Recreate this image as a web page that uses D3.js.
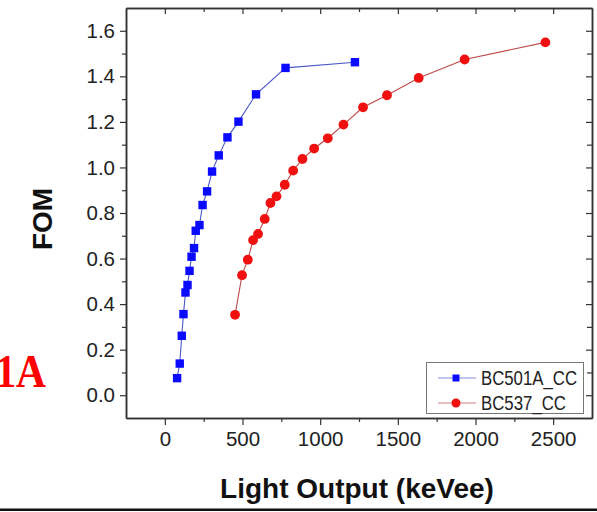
<!DOCTYPE html>
<html>
<head>
<meta charset="utf-8">
<script src="https://cdn.jsdelivr.net/npm/d3@7"></script>
<style>
  html, body { margin: 0; padding: 0; background: #fff; }
  svg { display: block; }
</style>
</head>
<body>
<svg id="chart" width="597" height="512"></svg>
<script>
// FOM versus light output for two liquid scintillators
const seriesNames = ["BC501A_CC", "BC537_CC"];

const bc501aLight = [79, 96, 109, 120, 133, 146, 159, 172, 188, 199, 223, 243, 272, 304, 347, 403, 474, 587, 777, 1224];
const bc501aFom   = [0.075, 0.139, 0.261, 0.356, 0.451, 0.484, 0.546, 0.608, 0.646, 0.722, 0.747, 0.835, 0.895, 0.982, 1.053, 1.132, 1.201, 1.321, 1.437, 1.462];

const bc537Light = [452, 497, 534, 568, 600, 643, 680, 719, 772, 826, 886, 961, 1049, 1150, 1276, 1430, 1634, 1930, 2450];
const bc537Fom   = [0.353, 0.527, 0.595, 0.681, 0.708, 0.774, 0.844, 0.873, 0.924, 0.986, 1.037, 1.083, 1.128, 1.188, 1.264, 1.317, 1.393, 1.474, 1.549];

const xTicks = [0, 500, 1000, 1500, 2000, 2500];
const xMinorTicks = [250, 750, 1250, 1750, 2250];
const yTicks = [0.0, 0.2, 0.4, 0.6, 0.8, 1.0, 1.2, 1.4, 1.6];
const yMinorTicks = [0.1, 0.3, 0.5, 0.7, 0.9, 1.1, 1.3, 1.5];

const svg = d3.select("#chart");
const plot = { left: 126, right: 592, top: 8, bottom: 418 };

const x = d3.scaleLinear().domain([-250, 2750]).range([plot.left, plot.right]);
const y = d3.scaleLinear().domain([-0.1, 1.7]).range([plot.bottom, plot.top]);

const axisColor = "#333";
const labelFont = "'Liberation Sans', Arial, Helvetica, sans-serif";

// Partial red slide heading at the left edge
svg.append("text")
  .attr("transform", "translate(46,387) scale(0.9,1)")
  .attr("text-anchor", "end")
  .attr("font-family", "'Liberation Serif', 'Times New Roman', serif")
  .attr("font-weight", "bold")
  .attr("font-size", 46)
  .attr("fill", "#ff0000")
  .text("1A");

// Axes: bottom and left with outward ticks, top and right mirrored inward
function styleAxis(g) {
  g.selectAll("path").attr("stroke", axisColor).attr("stroke-width", 1.5);
  g.selectAll("line").attr("stroke", axisColor).attr("stroke-width", 1.2);
  g.selectAll("text")
    .attr("font-family", labelFont)
    .attr("font-size", 20.5)
    .attr("fill", "#222");
}

const gx = svg.append("g").attr("transform", `translate(0,${plot.bottom})`)
  .call(d3.axisBottom(x).tickValues(xTicks).tickSize(7).tickPadding(6).tickSizeOuter(0).tickFormat(d3.format("d")));
styleAxis(gx);
const gxMinor = svg.append("g").attr("transform", `translate(0,${plot.bottom})`)
  .call(d3.axisBottom(x).tickValues(xMinorTicks).tickSize(4).tickSizeOuter(0).tickFormat(""));
styleAxis(gxMinor);

const gy = svg.append("g").attr("transform", `translate(${plot.left},0)`)
  .call(d3.axisLeft(y).tickValues(yTicks).tickSize(6).tickPadding(5).tickSizeOuter(0).tickFormat(d3.format(".1f")));
styleAxis(gy);
const gyMinor = svg.append("g").attr("transform", `translate(${plot.left},0)`)
  .call(d3.axisLeft(y).tickValues(yMinorTicks).tickSize(4).tickSizeOuter(0).tickFormat(""));
styleAxis(gyMinor);

const gTop = svg.append("g").attr("transform", `translate(0,${plot.top})`)
  .call(d3.axisBottom(x).tickValues(xTicks).tickSize(6).tickSizeOuter(0).tickFormat(""));
styleAxis(gTop);
const gTopMinor = svg.append("g").attr("transform", `translate(0,${plot.top})`)
  .call(d3.axisBottom(x).tickValues(xMinorTicks).tickSize(4).tickSizeOuter(0).tickFormat(""));
styleAxis(gTopMinor);

const gRight = svg.append("g").attr("transform", `translate(${plot.right},0)`)
  .call(d3.axisLeft(y).tickValues(yTicks).tickSize(6).tickSizeOuter(0).tickFormat(""));
styleAxis(gRight);
const gRightMinor = svg.append("g").attr("transform", `translate(${plot.right},0)`)
  .call(d3.axisLeft(y).tickValues(yMinorTicks).tickSize(5).tickSizeOuter(0).tickFormat(""));
styleAxis(gRightMinor);

// Axis titles
svg.append("text")
  .attr("x", 357).attr("y", 498)
  .attr("text-anchor", "middle")
  .attr("font-family", labelFont)
  .attr("font-weight", "bold")
  .attr("font-size", 28)
  .attr("fill", "#111")
  .text("Light Output (keVee)");

svg.append("text")
  .attr("transform", "translate(52,219) rotate(-90)")
  .attr("text-anchor", "middle")
  .attr("font-family", labelFont)
  .attr("font-weight", "bold")
  .attr("font-size", 28)
  .attr("fill", "#111")
  .text("FOM");

// Series
const series = [
  { name: seriesNames[0], xs: bc501aLight, ys: bc501aFom, color: "#0a0aff", line: "#4a58c8", shape: "square" },
  { name: seriesNames[1], xs: bc537Light, ys: bc537Fom, color: "#f01010", line: "#c04848", shape: "circle" }
];

const line = d3.line().x(d => x(d[0])).y(d => y(d[1]));

series.forEach(s => {
  const pts = s.xs.map((v, i) => [v, s.ys[i]]);
  svg.append("path")
    .datum(pts)
    .attr("d", line)
    .attr("fill", "none")
    .attr("stroke", s.line)
    .attr("stroke-width", 1.1);
  const g = svg.append("g");
  if (s.shape === "square") {
    g.selectAll("rect").data(pts).join("rect")
      .attr("x", d => x(d[0]) - 4.2)
      .attr("y", d => y(d[1]) - 4.2)
      .attr("width", 8.4).attr("height", 8.4)
      .attr("fill", s.color);
  } else {
    g.selectAll("circle").data(pts).join("circle")
      .attr("cx", d => x(d[0]))
      .attr("cy", d => y(d[1]))
      .attr("r", 4.9)
      .attr("fill", s.color);
  }
});

// Legend
const legend = svg.append("g");
legend.append("rect")
  .attr("x", 426.5).attr("y", 362.5).attr("width", 157).attr("height", 51)
  .attr("fill", "#fff").attr("stroke", "#777").attr("stroke-width", 1);
const legendWidths = [96, 85];
series.forEach((s, i) => {
  const cy = 378 + i * 25;
  legend.append("line")
    .attr("x1", 438).attr("x2", 476).attr("y1", cy).attr("y2", cy)
    .attr("stroke", s.line).attr("stroke-width", 1).attr("stroke-opacity", 0.7);
  if (s.shape === "square") {
    legend.append("rect").attr("x", 452.5).attr("y", cy - 3.5).attr("width", 7).attr("height", 7).attr("fill", s.color);
  } else {
    legend.append("circle").attr("cx", 456).attr("cy", cy).attr("r", 4.5).attr("fill", s.color);
  }
  legend.append("text")
    .attr("x", 481).attr("y", cy + 7)
    .attr("font-family", labelFont)
    .attr("font-size", 20)
    .attr("fill", "#222")
    .attr("textLength", legendWidths[i])
    .attr("lengthAdjust", "spacingAndGlyphs")
    .text(s.name);
});

// Slide rule along the bottom edge
svg.append("rect")
  .attr("x", 0).attr("y", 508.5).attr("width", 597).attr("height", 2.5)
  .attr("fill", "#111");
</script>
</body>
</html>
